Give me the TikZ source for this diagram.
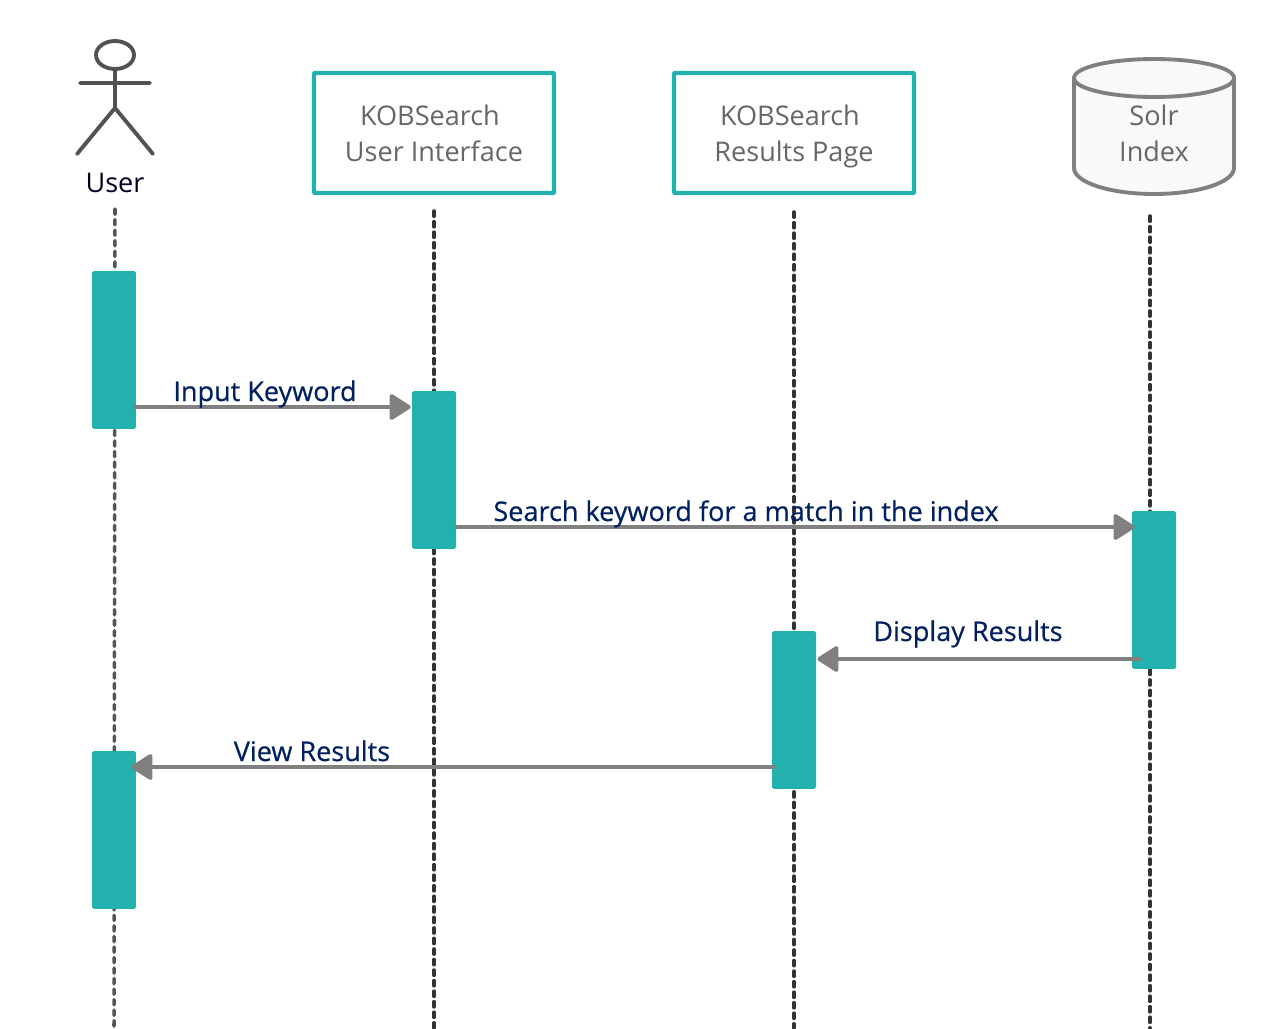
\documentclass[tikz,border=0pt]{standalone}
\usepackage{fontspec}
\setmainfont{Open Sans}
\newfontfamily\msgfont[FakeBold=0.5]{Open Sans}
\usepackage{xcolor}
\usetikzlibrary{arrows.meta}
\definecolor{barteal}{HTML}{22B1AD}
\definecolor{msggray}{HTML}{808080}
\definecolor{msgnavy}{HTML}{002060}
\definecolor{boxtext}{HTML}{666666}
\tikzset{
  barnode/.style={fill=barteal,rounded corners=1pt,minimum width=.88cm,minimum height=3.16cm,inner sep=0pt},
  boxnode/.style={draw=barteal,line width=2.4pt,rounded corners=.5pt,minimum width=4.8cm,minimum height=2.4cm,inner sep=0pt},
  titlenode/.style={text=boxtext,font=\fontsize{15.4}{20.4}\selectfont,align=center,inner sep=0pt,anchor=base},
  lifeline/.style={line width=2pt,line cap=round,dash pattern=on 3pt off 3pt},
  msgline/.style={draw=msggray,line width=2.2pt,-{Triangle[length=13pt,width=16pt,round]}},
  msglabel/.style={text=msgnavy,font=\msgfont\fontsize{15.4}{18}\selectfont,inner sep=0pt,anchor=base}
}
\begin{document}
\begin{tikzpicture}[x=.02cm,y=-.02cm]
\useasboundingbox (0,0) rectangle (1274,1028);
% lifelines
\foreach \name/\xa/\ya/\xb/\col in {user/115/209/114/555555,ui/434/211/434/333333,results/794/212/794/333333,index/1150/216/1150/333333} {
  \coordinate (\name top) at (\xa,\ya);
  \coordinate (\name end) at (\xb,1028);
  \definecolor{linecol}{HTML}{\col}
  \draw[lifeline,draw=linecol] (\name top)--(\name end);
}
% actor
\draw[line width=2.2pt,draw=black!68,line cap=round,line join=round]
  (115,55) ellipse (19 and 14) (115,69)--(115,108) (80,83)--(150,83) (77,154)--(115,108)--(153,154);
\node[font=\fontsize{15.4}{18}\selectfont,text=black!85!blue,inner sep=0pt,anchor=base] (userlabel) at (115,192) {User};
% boxes
\node[boxnode] (uibox) at (434,133) {};
\node[boxnode] (resultsbox) at (794,133) {};
\node[titlenode] (uititle) at (434,161) {\hspace*{-4.6pt}KOBSearch\\User Interface};
\node[titlenode] (resultstitle) at (794,161) {\hspace*{-4.6pt}KOBSearch\\Results Page};
\draw[line width=2.2pt,draw=msggray,fill=black!2.5,line join=round] (1074,78) arc[start angle=180,end angle=360,x radius=80,y radius=19]
  --(1234,168) arc[start angle=0,end angle=180,x radius=80,y radius=26]--cycle;
\draw[line width=2.2pt,draw=msggray] (1074,78) arc[start angle=180,end angle=0,x radius=80,y radius=19];
\node[titlenode] (solrtitle) at (1154,161) {Solr\\Index};
% activation bars
\foreach \name/\x/\y in {usera/114/350,uibar/434/470,indexbar/1154/590,resultsbar/794/710,userb/114/830} {
  \node[barnode] (\name) at (\x,\y) {};
}
% messages
\coordinate (inputy) at (0,407);
\coordinate (searchy) at (0,527);
\coordinate (displayy) at (0,659);
\coordinate (viewy) at (0,767);
\draw[msgline] ([xshift=-.06cm]usera.east |- inputy)--([xshift=-.02cm]uibar.west |- inputy);
\draw[msgline] ([xshift=-.02cm]uibar.east |- searchy)--([xshift=.06cm]indexbar.west |- searchy);
\draw[msgline] ([xshift=.2cm]indexbar.west |- displayy)--([xshift=.02cm]resultsbar.east |- displayy);
\draw[msgline] ([xshift=.06cm]resultsbar.west |- viewy)--([xshift=-.1cm]userb.east |- viewy);
\foreach \name/\x/\y/\lab in {inputlabel/265/401/Input Keyword,searchlabel/746/521/Search keyword for a match in the index,displaylabel/968/641/Display Results,viewlabel/312/761/View Results} {
  \node[msglabel] (\name) at (\x,\y) {\lab};
}
\end{tikzpicture}
\end{document}
